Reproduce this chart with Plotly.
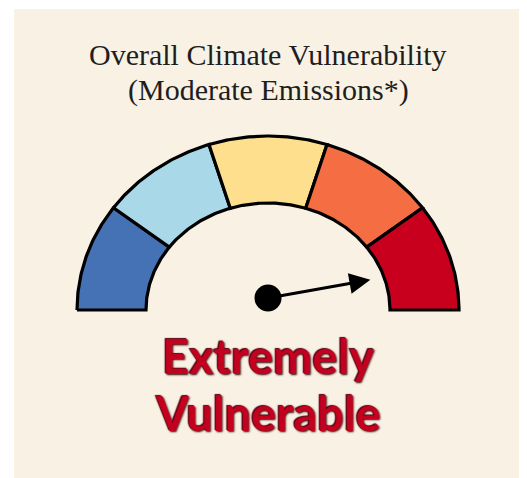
"""
Overall climate vulnerability gauge (moderate emissions).
Five equal bands from low to extreme, needle shows the score.
"""

import numpy as np
import plotly.graph_objects as go


# ──────────────────────────────────────────────
# Data
# ──────────────────────────────────────────────

BAND_LABELS = ["Low", "Somewhat Low", "Moderate", "High", "Extreme"]
BAND_COLORS = ["#4472B4", "#A9D8E8", "#FEDF8E", "#F46D43", "#C8001E"]
SCORE = 4.72          # position of the needle on the 0..5 band scale
SCORE_LINES = ["Extremely", "Vulnerable"]
TITLE_LINES = ["Overall Climate Vulnerability", "(Moderate Emissions*)"]

# geometry (axis units ~ pixels, gauge centre at 0,0)
OUTER_RX, OUTER_RY = 191, 174
INNER_RX, INNER_RY = 122, 107
NEEDLE_LEN = 104
PIVOT_Y = 12

BG = "#F8F1E4"


def band_path(i, n):
    """Closed outline of band i of n, on the squashed annulus."""
    a0 = np.pi - i * np.pi / n
    a1 = np.pi - (i + 1) * np.pi / n
    t = np.linspace(a0, a1, 60)
    xs = np.concatenate([OUTER_RX * np.cos(t), INNER_RX * np.cos(t[::-1])])
    ys = np.concatenate([OUTER_RY * np.sin(t), INNER_RY * np.sin(t[::-1])])
    return np.append(xs, xs[0]), np.append(ys, ys[0])


fig = go.Figure()

n = len(BAND_LABELS)
for i, (label, color) in enumerate(zip(BAND_LABELS, BAND_COLORS)):
    xs, ys = band_path(i, n)
    fig.add_trace(go.Scatter(
        x=xs, y=ys,
        mode="lines",
        fill="toself",
        fillcolor=color,
        line=dict(color="#000000", width=3.2),
        name=label,
        hoverinfo="name",
    ))

# needle
ang = np.pi - SCORE * np.pi / n
tip_x = NEEDLE_LEN * np.cos(ang)
tip_y = PIVOT_Y + NEEDLE_LEN * np.sin(ang)

fig.add_annotation(
    x=tip_x, y=tip_y, ax=0, ay=PIVOT_Y,
    xref="x", yref="y", axref="x", ayref="y",
    text="", showarrow=True,
    arrowhead=2, arrowsize=1.4, arrowwidth=3, arrowcolor="#000000",
)
fig.add_trace(go.Scatter(
    x=[0], y=[PIVOT_Y],
    mode="markers",
    marker=dict(size=27, color="#000000"),
    hoverinfo="skip",
))

# titles
title_font = dict(family="Liberation Serif", size=30, color="#1E1E1E")
for text, y in zip(TITLE_LINES, [256, 220]):
    fig.add_annotation(x=0, y=y, xref="x", yref="y", text=text,
                       showarrow=False, font=title_font)

score_font = dict(family="Lato", size=47, color="#C4001F", weight=700,
                  shadow="1px 1px 2px #3A0008, -1px -1px 1px #5A0010")
for text, y in zip(SCORE_LINES, [-46, -103]):
    fig.add_annotation(x=0, y=y, xref="x", yref="y", text=text,
                       showarrow=False, font=score_font)

# page body adds an 8px offset, so the figure is 8px smaller
fig.update_layout(
    width=519, height=470,
    paper_bgcolor="#FFFFFF",
    plot_bgcolor=BG,
    showlegend=False,
    margin=dict(l=6, r=0, t=1, b=0),
    xaxis=dict(range=[-254, 259], visible=False, fixedrange=True),
    yaxis=dict(range=[-168, 301], visible=False, fixedrange=True),
)

fig.write_html("out.html")
